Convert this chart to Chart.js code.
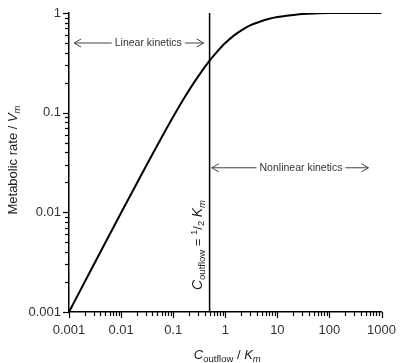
<!DOCTYPE html>
<html lang="en">
<head>
    <meta charset="UTF-8">
    <title>Metabolic rate vs outflow concentration</title>
    <script src="https://cdn.jsdelivr.net/npm/chart.js"></script>
    <style>
        html, body { margin: 0; padding: 0; background: #fff; }
        .chart-wrapper { width: 401px; height: 363px; }
    </style>
</head>
<body>
    <div class="chart-wrapper">
        <canvas id="mmChart"></canvas>
    </div>

    <script>
        // values (log-log axes)
        const concRatio = [0.001, 0.003, 0.01, 0.03, 0.1, 0.2, 0.3, 0.5, 0.7, 1, 1.5, 2, 3, 5, 7, 10, 15, 20, 30, 50, 100, 1000];
        const rateRatio = [0.001, 0.003, 0.0099, 0.029, 0.091, 0.167, 0.23, 0.333, 0.41, 0.5, 0.6, 0.667, 0.75, 0.83, 0.875, 0.91, 0.94, 0.955, 0.975, 0.99, 1, 1];
        const halfKm = 0.5;
        const xTickLabels = ['0.001', '0.01', '0.1', '1', '10', '100', '1000'];
        const yTickLabels = ['0.001', '0.01', '0.1', '1'];

        const FONT = '"Liberation Sans", Arial, sans-serif';

        function logTicks(min, max) {
            const out = [];
            for (let e = Math.round(Math.log10(min)); e < Math.round(Math.log10(max)); e++) {
                for (let m = 1; m < 10; m++) out.push({ value: m * Math.pow(10, e) });
            }
            out.push({ value: max });
            return out;
        }
        function isMajor(v) {
            const l = Math.log10(v);
            return Math.abs(l - Math.round(l)) < 1e-9;
        }
        function labelFor(v, list) {
            if (!isMajor(v)) return '';
            const s = list.find(t => Math.abs(parseFloat(t) - v) < v * 1e-6);
            return s || '';
        }

        // draws text pieces with sub/superscripts, centred on (x, y)
        function drawRich(ctx, segs, x, y) {
            let w = 0;
            segs.forEach(s => { ctx.font = s.font; s.w = ctx.measureText(s.t).width; w += s.w; });
            let cx = x - w / 2;
            ctx.textAlign = 'left';
            ctx.textBaseline = 'alphabetic';
            segs.forEach(s => {
                ctx.font = s.font;
                ctx.fillText(s.t, cx, y + (s.dy || 0));
                cx += s.w;
            });
        }

        function arrowHead(ctx, x, y, dir) {
            ctx.beginPath();
            ctx.moveTo(x - dir * 7, y - 4);
            ctx.lineTo(x, y);
            ctx.lineTo(x - dir * 7, y + 4);
            ctx.stroke();
        }

        function rangeArrow(ctx, xs, ys, x0, x1, xText, yv, text) {
            const px0 = xs.getPixelForValue(x0);
            const px1 = xs.getPixelForValue(x1);
            const pc = xs.getPixelForValue(xText);
            const py = ys.getPixelForValue(yv);
            ctx.font = '10.5px ' + FONT;
            const tw = ctx.measureText(text).width;
            ctx.strokeStyle = '#444';
            ctx.lineWidth = 1;
            ctx.beginPath();
            ctx.moveTo(px0, py); ctx.lineTo(pc - tw / 2 - 3, py);
            ctx.moveTo(pc + tw / 2 + 3, py); ctx.lineTo(px1, py);
            ctx.stroke();
            arrowHead(ctx, px0, py, -1);
            arrowHead(ctx, px1, py, 1);
            ctx.fillStyle = '#333';
            ctx.textAlign = 'center';
            ctx.textBaseline = 'middle';
            ctx.fillText(text, pc, py + 0.5);
        }

        const decorations = {
            id: 'decorations',
            afterDraw(chart) {
                const ctx = chart.ctx;
                const xs = chart.scales.x, ys = chart.scales.y;
                const area = chart.chartArea;
                ctx.save();

                // tick marks, longer at each decade
                ctx.strokeStyle = '#000';
                ctx.lineWidth = 1.2;
                xs.ticks.forEach(t => {
                    const px = Math.round(xs.getPixelForValue(t.value)) + 0.5;
                    const len = isMajor(t.value) ? 6 : 4;
                    ctx.beginPath();
                    ctx.moveTo(px, area.bottom);
                    ctx.lineTo(px, area.bottom + len);
                    ctx.stroke();
                });
                ys.ticks.forEach(t => {
                    const py = Math.round(ys.getPixelForValue(t.value)) + 0.5;
                    const len = isMajor(t.value) ? 6 : 4;
                    ctx.beginPath();
                    ctx.moveTo(area.left, py);
                    ctx.lineTo(area.left - len, py);
                    ctx.stroke();
                });

                // kinetics ranges
                rangeArrow(ctx, xs, ys, 0.00125, 0.385, 0.0333, 0.5, 'Linear kinetics');
                rangeArrow(ctx, xs, ys, 0.55, 560, 28.4, 0.028, 'Nonlinear kinetics');

                ctx.fillStyle = '#222';
                const big = '13px ' + FONT, bigI = 'italic 13px ' + FONT;
                const sub = '9.5px ' + FONT, subI = 'italic 9.5px ' + FONT;

                // x title
                drawRich(ctx, [
                    { t: 'C', font: bigI },
                    { t: 'outflow', font: sub, dy: 3 },
                    { t: ' / ', font: big },
                    { t: 'K', font: bigI },
                    { t: 'm', font: subI, dy: 3 }
                ], (area.left + area.right) / 2 + 2, 359);

                // y title
                ctx.save();
                ctx.translate(17, 160);
                ctx.rotate(-Math.PI / 2);
                drawRich(ctx, [
                    { t: 'Metabolic rate / ', font: big },
                    { t: 'V', font: bigI },
                    { t: 'm', font: subI, dy: 3 }
                ], 0, 0);
                ctx.restore();

                // label along the half-Km line
                ctx.save();
                ctx.translate(xs.getPixelForValue(halfKm) - 8, 245);
                ctx.rotate(-Math.PI / 2);
                drawRich(ctx, [
                    { t: 'C', font: 'italic 14px ' + FONT },
                    { t: 'outflow', font: sub, dy: 3 },
                    { t: ' = ', font: big },
                    { t: '1', font: sub, dy: -5 },
                    { t: '/', font: big },
                    { t: '2', font: sub, dy: 2 },
                    { t: ' ', font: big },
                    { t: 'K', font: 'italic 14px ' + FONT },
                    { t: 'm', font: subI, dy: 3 }
                ], 0, 0);
                ctx.restore();

                ctx.restore();
            }
        };

        const curve = concRatio.map((c, i) => ({ x: c, y: rateRatio[i] }));

        new Chart(document.getElementById('mmChart'), {
            type: 'line',
            data: {
                datasets: [{
                    data: curve,
                    borderColor: '#000',
                    borderWidth: 2,
                    pointRadius: 0,
                    cubicInterpolationMode: 'monotone',
                    fill: false
                }, {
                    data: [{ x: halfKm, y: 0.001 }, { x: halfKm, y: 1 }],
                    borderColor: '#000',
                    borderWidth: 1.5,
                    pointRadius: 0,
                    fill: false
                }]
            },
            options: {
                responsive: true,
                maintainAspectRatio: false,
                animation: false,
                events: [],
                layout: { padding: { top: 13, right: 19, left: 0, bottom: 0 } },
                plugins: {
                    legend: { display: false },
                    tooltip: { enabled: false }
                },
                scales: {
                    x: {
                        type: 'logarithmic',
                        min: 0.001,
                        max: 1000,
                        afterBuildTicks: s => { s.ticks = logTicks(0.001, 1000); },
                        afterFit: s => { s.height = 51; },
                        grid: { drawOnChartArea: false, color: 'rgba(0,0,0,0)', tickLength: 6 },
                        border: { color: '#000', width: 1.5 },
                        ticks: {
                            autoSkip: false,
                            maxRotation: 0,
                            padding: 5,
                            color: '#333',
                            font: { family: FONT, size: 13 },
                            callback: v => labelFor(v, xTickLabels)
                        }
                    },
                    y: {
                        type: 'logarithmic',
                        min: 0.001,
                        max: 1,
                        afterBuildTicks: s => { s.ticks = logTicks(0.001, 1); },
                        afterFit: s => { s.width = 69; },
                        grid: { drawOnChartArea: false, color: 'rgba(0,0,0,0)', tickLength: 6 },
                        border: { color: '#000', width: 1.5 },
                        ticks: {
                            autoSkip: false,
                            padding: 2,
                            color: '#333',
                            font: { family: FONT, size: 13 },
                            callback: v => labelFor(v, yTickLabels)
                        }
                    }
                }
            },
            plugins: [decorations]
        });
    </script>
</body>
</html>
